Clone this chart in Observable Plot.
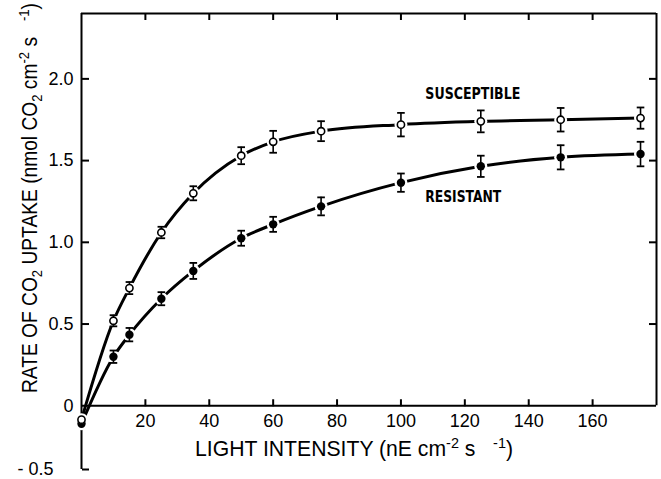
<!DOCTYPE html>
<html><head><meta charset="utf-8">
<script src="https://cdn.jsdelivr.net/npm/d3@7"></script>
<script src="https://cdn.jsdelivr.net/npm/@observablehq/plot@0.6"></script>
<style>
body{margin:0;background:#fff}
#chart svg{display:block}
</style>
</head><body><div id="chart"></div>
<script>
// ---- data ----
const lightIntensity = [0, 10, 15, 25, 35, 50, 60, 75, 100, 125, 150, 175];
const susceptible    = [-0.085, 0.52, 0.72, 1.06, 1.30, 1.53, 1.615, 1.68, 1.72, 1.74, 1.75, 1.76];
const susceptibleErr = [0, 0.034, 0.037, 0.035, 0.043, 0.052, 0.067, 0.061, 0.072, 0.067, 0.072, 0.065];
const resistant      = [-0.11, 0.30, 0.435, 0.655, 0.825, 1.025, 1.11, 1.22, 1.365, 1.465, 1.52, 1.54];
const resistantErr   = [0, 0.038, 0.041, 0.040, 0.049, 0.046, 0.046, 0.055, 0.056, 0.065, 0.074, 0.075];

const xTicks = [20, 40, 60, 80, 100, 120, 140, 160];
const yTickValues = [-0.39, 0, 0.5, 1, 1.5, 2];
const yTickLabels = ["- 0.5", "0", "0.5", "1.0", "1.5", "2.0"];
const seriesNames = ["SUSCEPTIBLE", "RESISTANT"];
const seriesLabelX = [122.5, 119.5];
const seriesLabelY = [1.91, 1.28];

// ---- layout ----
const W = 661, H = 479;
const mL = 81, mR = 5, mT = 13, mB = 10;
const xDomain = [0, 180], yDomain = [-0.39, 2.4];
const innerW = W - mL - mR, innerH = H - mT - mB;
const yPix = d3.scaleLinear(yDomain, [H - mB, mT]);
const zeroFromTop = yPix(0) - mT;
const zeroFromBottom = (H - mB) - yPix(0);

const sus = lightIntensity.map((x, i) => ({x, y: susceptible[i], e: susceptibleErr[i]}));
const res = lightIntensity.map((x, i) => ({x, y: resistant[i], e: resistantErr[i]}));
const all = sus.concat(res);
const labels = seriesNames.map((t, i) => ({t, x: seriesLabelX[i], y: seriesLabelY[i]}));
const yLabelMap = new Map(yTickValues.map((v, i) => [v, yTickLabels[i]]));

const capSymbol = {draw(ctx, size) { const r = Math.sqrt(size / Math.PI); ctx.moveTo(-r, 0); ctx.lineTo(r, 0); }};
const FONT = "Liberation Sans, Arial, sans-serif";

const chart = Plot.plot({
  width: W, height: H,
  marginLeft: mL, marginRight: mR, marginTop: mT, marginBottom: mB,
  style: {fontFamily: FONT, background: "white", color: "black"},
  x: {domain: xDomain},
  y: {domain: yDomain},
  marks: [
    // frame
    Plot.ruleY([0, 2.4], {strokeWidth: 2}),
    Plot.ruleX([180], {y1: 0, y2: 2.4, strokeWidth: 2}),
    Plot.ruleX([0], {y1: -0.39, y2: 2.4, strokeWidth: 2}),
    // inward ticks
    Plot.axisY(yTickValues.filter(v => v !== 0), {anchor: "right", tickSize: 7, text: null, label: null, strokeWidth: 2, dx: -innerW}),
    Plot.axisY([0.5, 1, 1.5, 2], {anchor: "left", tickSize: 7, text: null, label: null, strokeWidth: 2, dx: innerW}),
    Plot.axisX(xTicks, {anchor: "bottom", tickSize: 7, text: null, label: null, strokeWidth: 2, dy: -innerH}),
    Plot.axisX(xTicks, {anchor: "top", tickSize: 7, text: null, label: null, strokeWidth: 2, dy: zeroFromTop}),
    // tick labels
    Plot.axisY(yTickValues, {anchor: "left", tickSize: 0, tickPadding: 8, fontSize: 18, label: null, tickFormat: d => yLabelMap.get(d)}),
    Plot.axisX(xTicks, {anchor: "bottom", tickSize: 0, tickPadding: 8, fontSize: 18, label: null, dy: -zeroFromBottom}),
    // curves
    Plot.line(sus, {x: "x", y: "y", curve: "monotone-x", strokeWidth: 3}),
    Plot.line(res, {x: "x", y: "y", curve: "monotone-x", strokeWidth: 3}),
    // gaps around markers
    Plot.dot(all, {x: "x", y: "y", r: 6.5, fill: "white", stroke: null}),
    // error bars
    Plot.ruleX(all.filter(d => d.e > 0), {x: "x", y1: d => d.y - d.e, y2: d => d.y + d.e, strokeWidth: 1.6}),
    Plot.dot(all.filter(d => d.e > 0), {x: "x", y: d => d.y + d.e, symbol: capSymbol, r: 3.8, stroke: "black", fill: "none", strokeWidth: 1.8}),
    Plot.dot(all.filter(d => d.e > 0), {x: "x", y: d => d.y - d.e, symbol: capSymbol, r: 3.8, stroke: "black", fill: "none", strokeWidth: 1.8}),
    // markers
    Plot.dot(res, {x: "x", y: "y", r: 4.2, fill: "black", stroke: null}),
    Plot.dot(sus, {x: "x", y: "y", r: 3.6, fill: "white", stroke: "black", strokeWidth: 1.6}),
    // series labels
    Plot.text(labels, {x: "x", y: "y", text: "t", fontSize: 16, fontWeight: "bold", fontFamily: "DejaVu Sans Condensed, Liberation Sans, sans-serif"})
  ]
});
document.getElementById("chart").appendChild(chart);

const svg = d3.select(chart);
// condense the series labels to the reference's narrow lettering
const labelWidths = new Map([["SUSCEPTIBLE", 95], ["RESISTANT", 76]]);
svg.selectAll("text").each(function() {
  const w = labelWidths.get(this.textContent);
  if (w) d3.select(this).attr("textLength", w).attr("lengthAdjust", "spacingAndGlyphs");
  // the bottom tick label sits a little left of its tick in the reference
  if (this.textContent === yTickLabels[0]) {
    const prev = this.getAttribute("transform") || "";
    d3.select(this).attr("transform", prev + " translate(-20,0)");
  }
});

// axis titles with sub/superscripts (x, y = centre of the title)
function addTitle(parts, x, y, rotate, length) {
  const t = svg.append("text")
    .attr("transform", `translate(${x},${y}) rotate(${rotate}) translate(0,7.7)`)
    .attr("text-anchor", "middle")
    .attr("font-family", FONT).attr("font-size", 22)
    .attr("fill", "black")
    .attr("textLength", length).attr("lengthAdjust", "spacingAndGlyphs")
    .style("white-space", "pre");
  let shift = 0;
  for (const [s, kind] of parts) {
    const target = kind === "sup" ? -8 : kind === "sub" ? 5 : 0;
    const sp = t.append("tspan").text(s);
    if (target !== shift) sp.attr("dy", target - shift);
    shift = target;
    if (kind) sp.attr("font-size", 15);
  }
}
addTitle([["LIGHT INTENSITY (nE cm"], ["-2", "sup"], [" s   "], ["-1", "sup"], [")"]], 354, 448, 0, 318);
addTitle([["RATE OF CO"], ["2", "sub"], [" UPTAKE (nmol CO"], ["2", "sub"], [" cm"], ["-2", "sup"], [" s   "], ["-1", "sup"], [")"]], 29, 198, -90, 390);
</script>
</body></html>
